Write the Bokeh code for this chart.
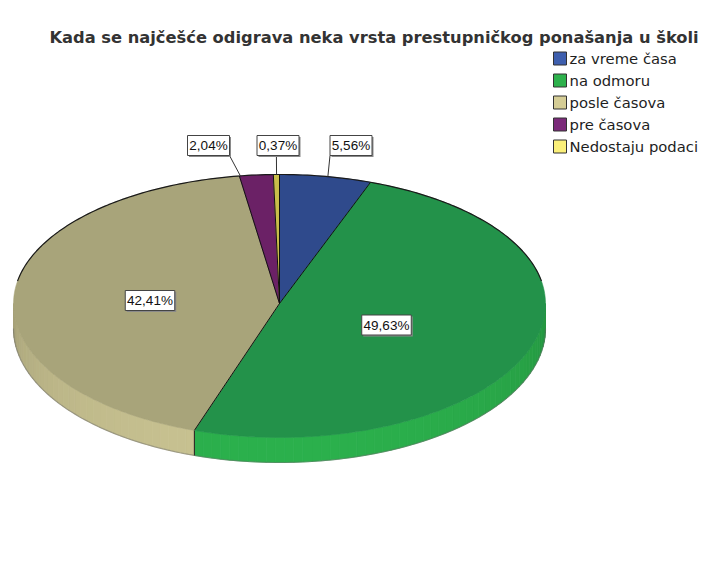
import math
from bokeh.plotting import figure
from bokeh.models import Range1d
from bokeh.core.properties import value
from bokeh.embed import file_html
from bokeh.resources import INLINE

# ---------------- data ----------------
title = "Kada se najčešće odigrava neka vrsta prestupničkog ponašanja u školi"
categories = ["za vreme časa", "na odmoru", "posle časova", "pre časova", "Nedostaju podaci"]
percents = [5.56, 49.63, 42.41, 2.04, 0.37]

# ---------------- style ----------------
top_colors = ["#2f4a8c", "#23924a", "#a8a47a", "#6b2166", "#c9bd4a"]
side_colors = ["#3a5aa8", "#2bb04c", "#c8c291", "#7d2b78", "#e8dc60"]
legend_colors = ["#3e5fae", "#2db14c", "#d5cd96", "#7b2a7a", "#fbf07a"]

W, H = 699, 557
CX, CY = 279.0, 303.0          # pie centre (pixels)
A = 266.0                      # horizontal radius
B_BACK, B_FRONT = 129.0, 134.0  # vertical radius, back / front (perspective)
DEPTH = 25.0

# label box centres (layout)
label_pos = [(350.5, 145.0), (386.0, 324.5), (149.5, 300.0), (208.0, 145.0), (277.5, 145.0)]
outside = [True, False, False, True, True]

p = figure(width=W, height=H, x_range=Range1d(0, W), y_range=Range1d(H, 0),
           toolbar_location=None, output_backend="svg", min_border=0)
p.axis.visible = False
p.xgrid.visible = False
p.ygrid.visible = False
p.outline_line_color = None
p.background_fill_color = "white"
p.border_fill_color = "white"


def ell(t, dy=0.0):
    b = B_BACK if math.cos(t) >= 0 else B_FRONT
    return CX + A * math.sin(t), CY - b * math.cos(t) + dy


def shade(hex_color, f):
    h = hex_color.lstrip("#")
    r, g, b = (int(h[i:i + 2], 16) for i in (0, 2, 4))
    r, g, b = (max(0, min(255, int(round(c * f)))) for c in (r, g, b))
    return "#%02x%02x%02x" % (r, g, b)


total = sum(percents)
bounds = [0.0]
for v in percents:
    bounds.append(bounds[-1] + v / total * 2 * math.pi)

# ---------------- sides (front half: pi/2 .. 3pi/2) ----------------
sx, sy, sc = [], [], []
seg_lines_x, seg_lines_y = [], []
for i in range(len(percents)):
    t1 = max(bounds[i], math.pi / 2)
    t2 = min(bounds[i + 1], 3 * math.pi / 2)
    if t2 <= t1:
        continue
    n = max(2, int((t2 - t1) / math.radians(2)) + 1)
    for k in range(n):
        a0 = t1 + (t2 - t1) * k / n
        a1 = t1 + (t2 - t1) * (k + 1) / n
        x0, y0 = ell(a0)
        x1, y1 = ell(a1)
        sx.append([x0, x1, x1, x0])
        sy.append([y0, y1, y1 + DEPTH, y0 + DEPTH])
        am = (a0 + a1) / 2
        f = 0.80 + 0.20 * (-math.cos(am)) ** 0.6 if math.cos(am) < 0 else 0.80
        sc.append(shade(side_colors[i], f))
    if bounds[i + 1] < 3 * math.pi / 2 and bounds[i + 1] > math.pi / 2:
        bx, by = ell(bounds[i + 1])
        seg_lines_x.append([bx, bx])
        seg_lines_y.append([by, by + DEPTH])

p.patches(sx, sy, fill_color=sc, line_color=sc, line_width=0.8)
bex, bey = [], []
for k in range(181):
    t = math.pi / 2 + math.pi * k / 180
    x, y = ell(t, DEPTH)
    bex.append(x)
    bey.append(y)
p.line(bex, bey, line_color="#666666", line_alpha=0.45, line_width=1.2)
p.multi_line(seg_lines_x, seg_lines_y, line_color="#1a1a1a", line_width=1)

# ---------------- top face ----------------
txs, tys = [], []
for i in range(len(percents)):
    t1, t2 = bounds[i], bounds[i + 1]
    n = max(3, int((t2 - t1) / math.radians(1)) + 2)
    xs, ys = [CX], [CY]
    for k in range(n + 1):
        x, y = ell(t1 + (t2 - t1) * k / n)
        xs.append(x)
        ys.append(y)
    txs.append(xs)
    tys.append(ys)
p.patches(txs, tys, fill_color=top_colors, line_color=top_colors, line_width=0.5)

rx, ry = [], []
for t in bounds[:-1]:
    x, y = ell(t)
    rx.append([CX, x])
    ry.append([CY, y])
p.multi_line(rx, ry, line_color="#111111", line_width=1)

ax_, ay_ = [], []
for k in range(161):
    t = math.radians(-80 + k)
    x, y = ell(t)
    ax_.append(x)
    ay_.append(y)
p.line(ax_, ay_, line_color="#1a1a1a", line_width=1.2)

# ---------------- labels ----------------
texts = [("%.2f" % v).replace(".", ",") + "%" for v in percents]
lx, ly, lw, lh = [], [], [], []
for i, t in enumerate(texts):
    cx, cy = label_pos[i]
    lx.append(cx)
    ly.append(cy)
    lw.append(7.5 * len(t) + 4.5)
    lh.append(20.0)

llx, lly = [], []
for i in range(len(percents)):
    if not outside[i]:
        continue
    t1, t2 = bounds[i], bounds[i + 1]
    tm = (t1 + t2) / 2
    mx, _ = ell(tm)
    cx, cy = label_pos[i]
    half = lw[i] / 2
    axp = min(max(mx, cx - half), cx + half)
    ayp = cy + lh[i] / 2
    # point of the slice's rim closest to the box anchor
    best = None
    for k in range(41):
        ex, ey = ell(t1 + (t2 - t1) * (0.03 + 0.94 * k / 40))
        d = (ex - axp) ** 2 + (ey - ayp) ** 2
        if best is None or d < best[0]:
            best = (d, ex, ey)
    llx.append([axp, best[1]])
    lly.append([ayp, best[2]])
p.multi_line(llx, lly, line_color="#333333", line_width=1)

p.rect(x=[x + 1.5 for x in lx], y=[y + 1.5 for y in ly], width=lw, height=lh,
       fill_color="#8a8a8a", line_color=None)
p.rect(x=lx, y=ly, width=lw, height=lh, fill_color="white", line_color="#444444", line_width=1)
p.text(x=lx, y=ly, text=texts, text_font=value("Liberation Sans"), text_font_size="13.5px",
       text_align="center", text_baseline="middle", text_color="#111111")

# ---------------- title ----------------
p.text(x=[373.5], y=[36.5], text=[title], text_font=value("DejaVu Sans"),
       text_font_size="16.3px", text_font_style="bold", text_align="center",
       text_baseline="alphabetic", text_color="#333333")

# ---------------- legend ----------------
leg_y = [58 + 22 * i for i in range(len(categories))]
p.rect(x=[559.5] * len(categories), y=leg_y, width=13, height=13,
       fill_color=legend_colors, line_color="#333333", line_width=1)
p.text(x=[569] * len(categories), y=leg_y, text=categories, text_font=value("DejaVu Sans"),
       text_font_size="14.8px", text_align="left", text_baseline="middle", text_color="#1e1e1e")

open("out.html", "w").write(file_html(p, INLINE))
